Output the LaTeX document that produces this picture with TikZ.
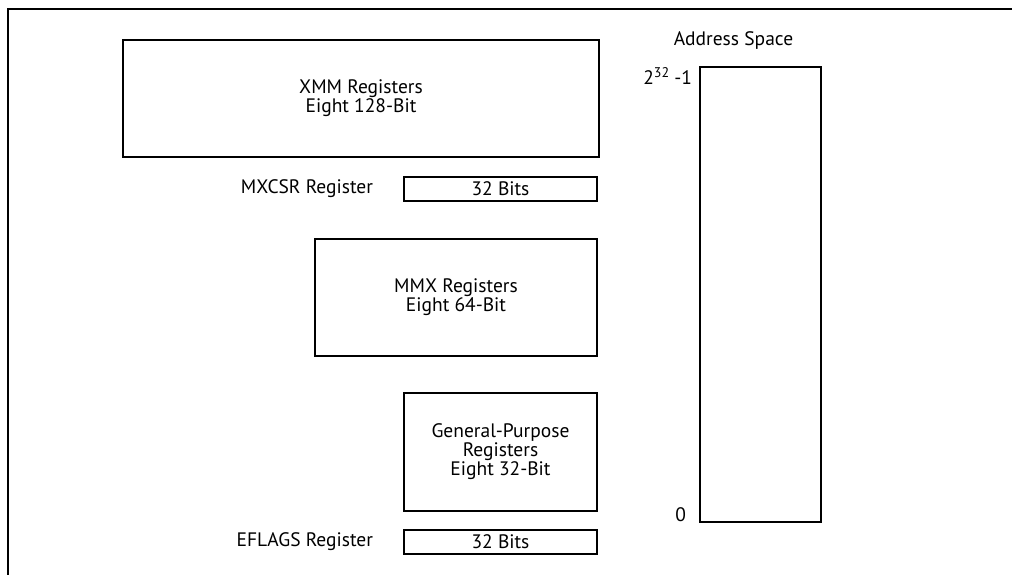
\documentclass[tikz,border=0pt]{standalone}
\usepackage{fontspec}
\setmainfont{PT Sans}
\usetikzlibrary{positioning}
\newcommand{\supnum}[1]{\raisebox{7pt}{\fontsize{14}{14}\selectfont #1}}

\begin{document}
\begin{tikzpicture}[x=1pt, y=-1pt, line width=1.2pt, node distance=31pt,
    every node/.style={font=\fontsize{19.5}{19}\selectfont, align=center, inner sep=0pt, outer sep=0pt},
    regbox/.style={draw, minimum width=#1},
    bits/.style={draw, minimum width=193pt, minimum height=24pt}]
    \useasboundingbox (0,0) rectangle (1012,575);
    \draw (8,575) -- (8,9) -- (1012,9);
    % register boxes
    \node (xmm) [regbox=476pt, minimum height=117pt] at (361,98.5) {XMM Registers\\Eight 128-Bit};
    \node (mxcsr) [bits] at (500.5,189) {32 Bits};
    \node (mmx) [regbox=282pt, minimum height=117pt] at (456,297.5) {MMX Registers\\Eight 64-Bit};
    \node (gpr) [regbox=193pt, minimum height=118pt] at (500.5,452) {General-Purpose\\Registers\\Eight 32-Bit};
    \node (eflags) [bits] at (500.5,542) {32 Bits};
    \node (mxcsrlbl) [left=of mxcsr] {MXCSR Register};
    \node (eflagslbl) [left=of eflags] {EFLAGS Register};
    % address space
    \node (addr) [regbox=121pt, minimum height=455pt] at (760.5,294.5) {};
    \node (addrlbl) [above=18pt of addr.north, xshift=-27pt] {Address Space};
    \node (top) [below left=1pt and 8pt of addr.north west] {2\supnum{32} -1};
    \node (zero) [left=14pt of addr.south west, anchor=south east] {0};
\end{tikzpicture}
\end{document}
